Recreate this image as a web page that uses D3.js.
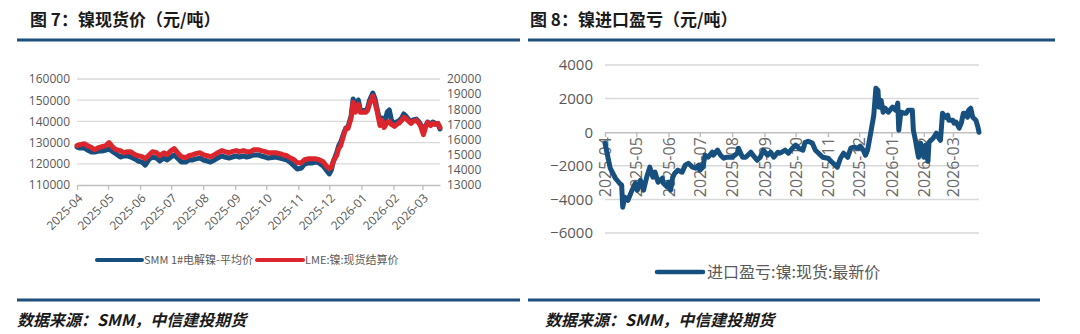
<!DOCTYPE html>
<html><head><meta charset="utf-8">
<script src="https://cdn.jsdelivr.net/npm/d3@7"></script>
<style>body{margin:0;background:#fff}svg{display:block}</style>
</head><body>
<svg id="c" width="1080" height="334"></svg>
<script>
// ---------- DATA ----------
const leftDates = ["2025-04-01","2025-04-04","2025-04-08","2025-04-11","2025-04-15","2025-04-18","2025-04-22","2025-04-25","2025-04-29","2025-05-02","2025-05-06","2025-05-09","2025-05-13","2025-05-16","2025-05-20","2025-05-23","2025-05-27","2025-05-30","2025-06-03","2025-06-06","2025-06-10","2025-06-13","2025-06-17","2025-06-20","2025-06-24","2025-06-27","2025-07-01","2025-07-04","2025-07-08","2025-07-11","2025-07-15","2025-07-18","2025-07-22","2025-07-25","2025-07-29","2025-08-01","2025-08-05","2025-08-08","2025-08-12","2025-08-15","2025-08-19","2025-08-22","2025-08-26","2025-08-29","2025-09-02","2025-09-05","2025-09-09","2025-09-12","2025-09-16","2025-09-19","2025-09-23","2025-09-26","2025-09-30","2025-10-03","2025-10-10","2025-10-14","2025-10-17","2025-10-21","2025-10-24","2025-10-28","2025-10-31","2025-11-04","2025-11-07","2025-11-11","2025-11-14","2025-11-18","2025-11-21","2025-11-25","2025-11-28","2025-12-01","2025-12-03","2025-12-05","2025-12-08","2025-12-10","2025-12-12","2025-12-15","2025-12-17","2025-12-19","2025-12-22","2025-12-24","2025-12-26","2025-12-29","2025-12-31","2026-01-05","2026-01-07","2026-01-09","2026-01-12","2026-01-14","2026-01-16","2026-01-19","2026-01-21","2026-01-23","2026-01-26","2026-01-28","2026-01-30","2026-02-02","2026-02-04","2026-02-06","2026-02-09","2026-02-11","2026-02-13","2026-02-16","2026-02-18","2026-02-20","2026-02-23","2026-02-25","2026-02-27","2026-03-02","2026-03-04","2026-03-06","2026-03-09","2026-03-11","2026-03-13","2026-03-16","2026-03-18"];
const smmNickel = [127900,127450,127450,126500,125600,125600,126000,126000,126500,127000,125600,124600,123200,123700,123700,123200,122300,121300,120800,119400,122300,123200,122700,121300,122700,121800,123200,124200,122300,120800,120800,121800,121800,122300,122700,121800,121300,120800,121800,122700,123700,123200,122700,123200,123700,123200,123700,123200,123700,124200,124200,123700,123200,122700,123200,122700,122300,121800,120800,119000,117500,118000,119900,120400,120400,120800,120400,119000,117100,115200,117100,121300,125100,128400,130300,134500,136900,137400,142500,150600,145400,150100,145400,144900,146300,150100,153400,151000,146300,139700,141600,138800,144400,145400,140700,138300,139700,140200,141600,143500,142500,140700,139700,140700,141100,140200,138800,135900,137800,139700,138800,139700,139200,138800,136400];
const lmeNickel = [15600,15670,15730,15600,15470,15330,15470,15530,15600,15800,15470,15330,15270,15130,15200,15200,15000,14930,14870,14730,15000,15200,15130,14930,15130,15000,15270,15400,15070,14870,14800,14930,15000,15070,15130,15000,14930,14870,15000,15130,15270,15200,15130,15200,15270,15200,15270,15200,15200,15330,15330,15270,15200,15130,15130,15070,15000,14930,14800,14670,14470,14470,14670,14730,14730,14730,14670,14530,14270,14070,14200,14600,14930,15400,15600,16330,16730,16730,17400,18470,17800,18330,17800,17800,17930,18400,18870,18470,17930,16930,17270,16800,17130,17200,17000,16870,17000,17070,17270,17470,17400,17200,17070,17200,17270,17130,16930,16330,16800,17130,16930,17070,17000,17070,16800];

const rightDates = ["2025-04-01","2025-04-06","2025-04-11","2025-04-15","2025-04-17","2025-04-18","2025-04-20","2025-04-23","2025-04-27","2025-04-30","2025-05-02","2025-05-05","2025-05-08","2025-05-11","2025-05-14","2025-05-17","2025-05-19","2025-05-22","2025-05-26","2025-05-27","2025-05-31","2025-06-01","2025-06-03","2025-06-05","2025-06-07","2025-06-10","2025-06-14","2025-06-17","2025-06-20","2025-06-24","2025-06-27","2025-06-30","2025-07-01","2025-07-04","2025-07-06","2025-07-09","2025-07-13","2025-07-14","2025-07-18","2025-07-21","2025-07-24","2025-07-27","2025-08-01","2025-08-06","2025-08-07","2025-08-11","2025-08-14","2025-08-19","2025-08-21","2025-08-25","2025-08-28","2025-08-31","2025-09-04","2025-09-07","2025-09-10","2025-09-14","2025-09-16","2025-09-21","2025-09-24","2025-09-28","2025-10-01","2025-10-04","2025-10-08","2025-10-10","2025-10-13","2025-10-17","2025-10-20","2025-10-23","2025-10-27","2025-11-01","2025-11-05","2025-11-08","2025-11-10","2025-11-13","2025-11-16","2025-11-20","2025-11-23","2025-11-26","2025-11-30","2025-12-02","2025-12-05","2025-12-07","2025-12-09","2025-12-12","2025-12-15","2025-12-17","2025-12-19","2025-12-20","2025-12-22","2025-12-24","2025-12-26","2025-12-29","2026-01-02","2026-01-05","2026-01-07","2026-01-08","2026-01-10","2026-01-13","2026-01-15","2026-01-17","2026-01-20","2026-01-21","2026-01-22","2026-01-24","2026-01-26","2026-01-27","2026-01-29","2026-01-31","2026-02-01","2026-02-03","2026-02-05","2026-02-06","2026-02-10","2026-02-13","2026-02-15","2026-02-17","2026-02-19","2026-02-22","2026-02-24","2026-02-25","2026-03-01","2026-03-02","2026-03-04","2026-03-07","2026-03-09","2026-03-11","2026-03-13","2026-03-15","2026-03-16","2026-03-18","2026-03-20","2026-03-23","2026-03-25","2026-03-26"];
const importProfit = [-650,-2140,-2740,-3040,-3150,-4460,-3870,-4050,-3450,-3040,-3450,-2860,-3450,-2680,-2080,-2680,-2380,-2980,-2740,-3040,-3270,-2980,-3450,-2680,-2440,-2260,-2380,-1960,-1850,-2080,-2140,-1960,-2260,-2080,-1370,-1490,-1190,-1370,-1070,-1370,-1550,-1490,-1490,-1250,-950,-1490,-1490,-1190,-1370,-1670,-1490,-1070,-1370,-1190,-1490,-1190,-1250,-1070,-1250,-950,-770,-950,-1070,-600,-540,-650,-1070,-1250,-1490,-1550,-1790,-1960,-2080,-1550,-1250,-1490,-950,-890,-950,-830,-1070,-1370,-1070,-60,1010,2620,2500,1490,1900,1190,1430,1190,1490,1310,1730,120,1190,1130,1130,1310,1310,1310,120,-480,-1190,-1490,-650,-1070,-1490,-770,-1730,-600,-360,-60,-300,-480,1130,890,1010,710,710,540,600,240,540,1130,1130,890,1310,1430,890,710,300,0];

const monthTicks = ["2025-04","2025-05","2025-06","2025-07","2025-08","2025-09","2025-10","2025-11","2025-12","2026-01","2026-02","2026-03"];
const leftYTicks = [110000,120000,130000,140000,150000,160000];
const rightYTicks = [13000,14000,15000,16000,17000,18000,19000,20000];
const profitTicks = [-6000,-4000,-2000,0,2000,4000];
const titles = ["图 7：镍现货价（元/吨）","图 8：镍进口盈亏（元/吨）"];
const sourceText = "数据来源：SMM，中信建投期货";
const legendLeft = ["SMM 1#电解镍-平均价","LME:镍:现货结算价"];
const legendRight = "进口盈亏:镍:现货:最新价";

// ---------- DRAW ----------
const svg = d3.select("#c");
const parse = d3.utcParse("%Y-%m-%d");
const pm = d3.utcParse("%Y-%m");
const fmtM = d3.utcFormat("%Y-%m");
const CJK = "'Noto Sans CJK SC','Noto Sans',sans-serif";
const NUM = "'Open Sans','Noto Sans',sans-serif";
const BLUE = "#17507f", RED = "#dc262d", GRID = "#d9d9d9", AX = "#bfbfbf", TXT = "#595959", HEAD = "#1d4f7c";

svg.append("rect").attr("width",1080).attr("height",334).attr("fill","#fff");

// headers & footers
[[30,17,520],[530,528,1055]].forEach((p,i)=>{
  svg.append("text").attr("x",p[0]).attr("y",26).text(titles[i])
    .attr("font-family",CJK).attr("font-weight",700).attr("font-size",17).attr("fill","#1a1a1a");
  svg.append("line").attr("x1",p[1]).attr("x2",p[2]).attr("y1",40).attr("y2",40).attr("stroke",HEAD).attr("stroke-width",3);
  svg.append("line").attr("x1",p[1]).attr("x2",i?1040:520).attr("y1",300).attr("y2",300).attr("stroke",HEAD).attr("stroke-width",3);
  svg.append("text").attr("x",i?545:17).attr("y",326).text(sourceText)
    .attr("font-family",CJK).attr("font-weight",700).attr("font-style","italic").attr("font-size",16).attr("fill","#1a1a1a");
});

// ---- left chart ----
const xL = d3.scaleUtc().domain([parse("2025-04-01"), parse("2026-03-18")]).range([77,440]);
const yL = d3.scaleLinear().domain([110000,160000]).range([185,79]);
const yR = d3.scaleLinear().domain([13000,20000]).range([185,79]);
const gL = svg.append("g");
gL.selectAll(".gl").data(leftYTicks.slice(1)).join("line")
  .attr("x1",77).attr("x2",440).attr("y1",d=>yL(d)).attr("y2",d=>yL(d)).attr("stroke",GRID).attr("stroke-width",1.3);
const axL = gL.append("g").attr("transform","translate(77,0)")
  .call(d3.axisLeft(yL).tickValues(leftYTicks).tickSize(0).tickPadding(7).tickFormat(d3.format("d")));
axL.select(".domain").remove();
const axR = gL.append("g").attr("transform","translate(440,0)")
  .call(d3.axisRight(yR).tickValues(rightYTicks).tickSize(0).tickPadding(7).tickFormat(d3.format("d")));
axR.select(".domain").remove();
[axL,axR].forEach(a=>a.selectAll("text").attr("font-family",NUM).attr("font-size",12).attr("fill",TXT));
const axXL = gL.append("g").attr("transform","translate(0,185)")
  .call(d3.axisBottom(xL).tickValues(monthTicks.map(pm)).tickSizeInner(5).tickSizeOuter(0).tickFormat(fmtM));
axXL.select(".domain").attr("stroke",AX).attr("stroke-width",1.3);
axXL.selectAll(".tick line").attr("stroke",AX).attr("stroke-width",1.3);
axXL.selectAll("text").attr("font-family",NUM).attr("font-size",12).attr("fill",TXT)
  .attr("x",0).attr("y",0).attr("dy","0.35em").attr("text-anchor","end")
  .attr("transform","translate(3,11) rotate(-45)");
const lineSMM = d3.line().x((d,i)=>xL(parse(leftDates[i]))).y(d=>yL(d));
const lineLME = d3.line().x((d,i)=>xL(parse(leftDates[i]))).y(d=>yR(d));
gL.append("path").attr("d",lineSMM(smmNickel)).attr("fill","none").attr("stroke",BLUE).attr("stroke-width",5).attr("stroke-linejoin","round").attr("stroke-linecap","round");
gL.append("path").attr("d",lineLME(lmeNickel)).attr("fill","none").attr("stroke",RED).attr("stroke-width",5).attr("stroke-linejoin","round").attr("stroke-linecap","round");
// legend
[[97,142,BLUE,144],[257,303,RED,305]].forEach((p,i)=>{
  svg.append("line").attr("x1",p[0]).attr("x2",p[1]).attr("y1",260).attr("y2",260).attr("stroke",p[2]).attr("stroke-width",4).attr("stroke-linecap","round");
  svg.append("text").attr("x",p[3]).attr("y",260).attr("dy","0.35em").text(legendLeft[i])
    .attr("font-family",CJK).attr("font-size",11).attr("fill",TXT);
});

// ---- right chart ----
const x2 = d3.scaleUtc().domain([parse("2025-04-01"), parse("2026-03-26")]).range([605,979]);
const y2 = d3.scaleLinear().domain([-6000,4000]).range([233,65]);
const gR = svg.append("g");
gR.selectAll(".gl").data(profitTicks.filter(d=>d!==0)).join("line")
  .attr("x1",605).attr("x2",979).attr("y1",d=>y2(d)).attr("y2",d=>y2(d)).attr("stroke",GRID).attr("stroke-width",1.5);
const ay2 = gR.append("g").attr("transform","translate(605,0)")
  .call(d3.axisLeft(y2).tickValues(profitTicks).tickSize(0).tickPadding(12).tickFormat(d3.format("d")));
ay2.select(".domain").remove();
ay2.selectAll("text").attr("font-family",NUM).attr("font-size",15).attr("fill",TXT);
const ax2 = gR.append("g").attr("transform",`translate(0,${y2(0)})`)
  .call(d3.axisBottom(x2).tickValues(monthTicks.map(pm)).tickSizeInner(5).tickSizeOuter(0).tickFormat(fmtM));
ax2.select(".domain").attr("stroke",AX).attr("stroke-width",1.5);
ax2.selectAll(".tick line").attr("stroke",AX).attr("stroke-width",1.5);
ax2.selectAll("text").attr("font-family",NUM).attr("font-size",16).attr("fill","#6a6a6a")
  .attr("x",0).attr("y",0).attr("dy","0.35em").attr("text-anchor","end")
  .attr("transform","translate(0,5) rotate(-90)");
const lineP = d3.line().x((d,i)=>x2(parse(rightDates[i]))).y(d=>y2(d));
gR.append("path").attr("d",lineP(importProfit)).attr("fill","none").attr("stroke",BLUE).attr("stroke-width",5).attr("stroke-linejoin","round").attr("stroke-linecap","round");
svg.append("line").attr("x1",657).attr("x2",703).attr("y1",272).attr("y2",272).attr("stroke",BLUE).attr("stroke-width",4.5).attr("stroke-linecap","round");
svg.append("text").attr("x",707).attr("y",272).attr("dy","0.35em").text(legendRight)
  .attr("font-family",CJK).attr("font-size",16).attr("fill",TXT);
</script>
</body></html>
